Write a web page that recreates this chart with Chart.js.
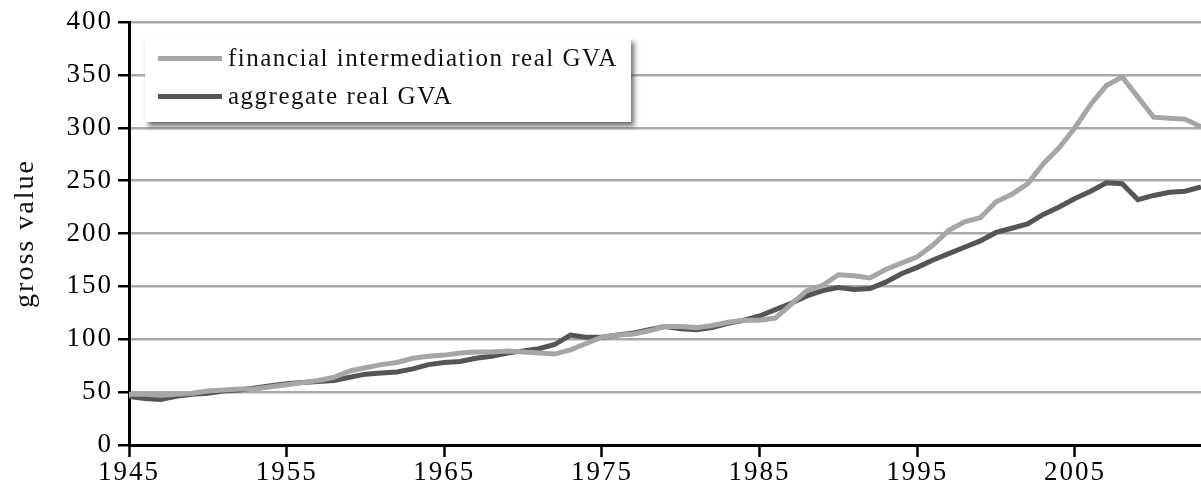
<!DOCTYPE html>
<html>
<head>
<meta charset="utf-8">
<script src="https://cdn.jsdelivr.net/npm/chart.js@4.4.1/dist/chart.umd.min.js"></script>
<style>
  html, body { margin:0; padding:0; background:#fff; }
  #wrap { position:relative; width:1201px; height:491px; overflow:hidden; }
  #legend {
    position:absolute; left:145px; top:38px; width:486px; height:84px;
    background:#fff; box-shadow: 3px 4px 5px rgba(60,60,60,0.75);
    font-family:"Liberation Serif","DejaVu Serif",serif; font-size:25px; letter-spacing:1.5px; color:#111;
  }
  .item { position:absolute; left:13px; display:flex; align-items:center; white-space:nowrap; }
  .swatch { width:64px; height:5px; margin-right:6px; }
</style>
</head>
<body>
<div id="wrap">
  <canvas id="c" width="1201" height="491"></canvas>
  <div id="legend"></div>
</div>
<script>
const years = [];
for (let y = 1945; y <= 2013; y++) years.push(y);

const financialGVA = [
  48,48,47,48,49,51,52,53,53,55,
  57,59,61,64,70,73,76,78,82,84,
  85,87,88,88,89,88,87,86,90,96,
  102,104,105,108,112,112,111,113,116,118,
  118,120,133,146,151,161,160,158,166,172,
  178,189,203,211,215,230,237,247,266,281,
  300,322,340,348,329,310,309,308,301
];
const aggregateGVA = [
  46,44,43,46,48,49,51,52,54,56,
  58,59,60,61,64,67,68,69,72,76,
  78,79,82,84,87,89,91,95,104,102,
  102,104,106,109,112,110,109,111,115,118,
  122,128,134,141,146,149,147,148,154,162,
  168,175,181,187,193,201,205,209,218,225,
  233,240,248,247,232,236,239,240,244
];
const xTicks = [1945,1955,1965,1975,1985,1995,2005];
const seriesNames = ["financial intermediation real GVA", "aggregate real GVA"];
const seriesColors = ["#a6a6a6", "#555555"];

const font = "'Liberation Serif','DejaVu Serif',serif";

const spacingPlugin = {
  id: 'spacing',
  beforeInit(chart) { chart.ctx.letterSpacing = '2px'; },
  beforeLayout(chart) { chart.ctx.letterSpacing = '2px'; },
  beforeDraw(chart) { chart.ctx.letterSpacing = '2px'; }
};

const chart = new Chart(document.getElementById('c'), {
  type: 'line',
  data: {
    datasets: [
      { label: seriesNames[0], data: years.map((y,i)=>({x:y, y:financialGVA[i]})),
        borderColor: seriesColors[0], borderWidth: 5, pointRadius: 0, tension: 0, fill:false },
      { label: seriesNames[1], data: years.map((y,i)=>({x:y, y:aggregateGVA[i]})),
        borderColor: seriesColors[1], borderWidth: 5, pointRadius: 0, tension: 0, fill:false }
    ]
  },
  plugins: [spacingPlugin],
  options: {
    responsive: false,
    animation: false,
    layout: { padding: { top: 22, right: 0, left: 0, bottom: 0 } },
    plugins: { legend: { display:false }, tooltip: { enabled:false } },
    scales: {
      x: {
        type: 'linear', min: 1945, max: 2013,
        afterBuildTicks: s => { s.ticks = xTicks.map(v=>({value:v})); },
        afterFit: s => { s.height = 46; },
        grid: { drawOnChartArea:false, drawTicks:true, tickLength:12, tickColor:'#000', tickWidth:2.5 },
        border: { color:'#000', width:3 },
        ticks: { color:'#000', font:{ family:font, size:27 }, padding:0, maxRotation:0, callback: v => String(v) }
      },
      y: {
        min: 0, max: 400,
        ticks: { stepSize: 50, color:'#000', font:{ family:font, size:27 }, padding:5 },
        afterFit: s => { s.width = 129; },
        grid: { color:'#aaaaaa', lineWidth:2.5, tickLength:11, tickColor:'#000', tickWidth:2.5 },
        border: { color:'#000', width:3 },
        title: { display:true, text:'gross value', color:'#111', font:{ family:font, size:28 }, padding:{top:9,bottom:0} }
      }
    }
  }
});

const legend = document.getElementById('legend');
seriesNames.forEach((name, i) => {
  const d = document.createElement('div');
  d.className = 'item';
  d.style.top = (i === 0 ? 6 : 44) + 'px';
  d.innerHTML = '<span class="swatch" style="background:' + seriesColors[i] + '"></span><span>' + name + '</span>';
  legend.appendChild(d);
});
</script>
</body>
</html>
